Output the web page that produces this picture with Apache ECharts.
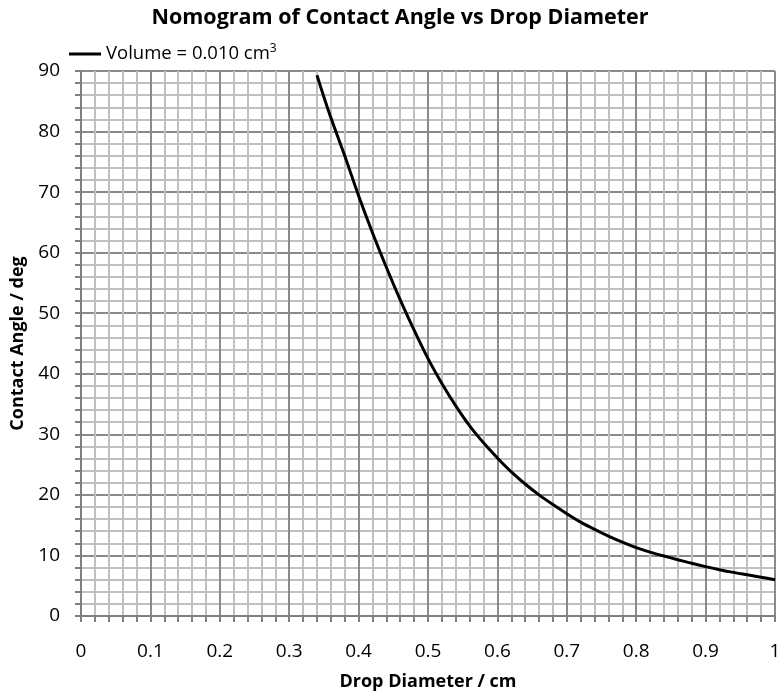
<!DOCTYPE html>
<html>
<head>
<meta charset="utf-8">
<script src="https://cdn.jsdelivr.net/npm/echarts@6/dist/echarts.min.js"></script>
<style>
  html, body { margin: 0; padding: 0; background: #fff; }
  #chart { width: 784px; height: 693px; }
</style>
</head>
<body>
<div id="chart"></div>
<script>
// drop diameter (cm) and contact angle (deg)
var diameters = [0.34, 0.35, 0.36, 0.38, 0.40, 0.42, 0.44, 0.46, 0.48, 0.50,
                 0.52, 0.54, 0.56, 0.58, 0.60, 0.62, 0.64, 0.66, 0.68, 0.70,
                 0.72, 0.74, 0.76, 0.78, 0.80, 0.82, 0.84, 0.86, 0.88, 0.90,
                 0.92, 0.94, 0.96, 0.98, 1.00];
var angles = [89.3, 85.7, 82.3, 76.0, 69.4, 63.3, 57.6, 52.2, 47.2, 42.5,
              38.4, 34.7, 31.4, 28.6, 26.1, 23.8, 21.8, 20.0, 18.4, 16.9,
              15.5, 14.3, 13.2, 12.2, 11.3, 10.55, 9.9, 9.3, 8.7, 8.15,
              7.65, 7.2, 6.8, 6.4, 6.0];
var seriesName = 'Volume = 0.010 cm3';

var points = [];
for (var i = 0; i < diameters.length; i++) {
    points.push([diameters[i], angles[i]]);
}

var font = '"Open Sans", "Liberation Sans", sans-serif';

var axisCommon = {
    axisLine: { lineStyle: { color: '#808080', width: 2 } },
    axisTick: { show: true, inside: false, length: 6, lineStyle: { color: '#808080', width: 2 } },
    minorTick: { show: true, splitNumber: 5, length: 6, lineStyle: { color: '#808080', width: 2 } },
    splitLine: { show: true, lineStyle: { color: '#8a8a8a', width: 2 } },
    minorSplitLine: { show: true, lineStyle: { color: '#c0c0c0', width: 2 } },
    axisLabel: { color: '#000', fontSize: 19, fontFamily: font },
    nameTextStyle: { color: '#000', fontSize: 18, fontWeight: 'bold', fontFamily: font }
};

var option = {
    animation: false,
    backgroundColor: '#fff',
    title: {
        text: 'Nomogram of Contact Angle vs Drop Diameter',
        left: 395,
        textAlign: 'center',
        top: 2,
        textStyle: { color: '#000', fontSize: 21.5, fontWeight: 'bold', fontFamily: font }
    },
    legend: {
        left: 64,
        top: 38,
        icon: 'rect',
        itemWidth: 32,
        itemHeight: 3,
        itemGap: 4,
        data: [seriesName],
        formatter: function () { return 'Volume = 0.010 cm{sup|3}'; },
        textStyle: {
            color: '#000', fontSize: 18.5, fontFamily: font,
            rich: { sup: { fontSize: 12, verticalAlign: 'top', padding: [0, 0, 10, 0], fontFamily: font } }
        }
    },
    grid: { left: 81, right: 9, top: 71, bottom: 77, containLabel: false, outerBoundsMode: 'none' },
    xAxis: Object.assign({}, axisCommon, {
        type: 'value',
        min: 0,
        max: 1,
        interval: 0.1,
        name: 'Drop Diameter / cm',
        nameLocation: 'middle',
        nameGap: 57,
        axisLabel: Object.assign({}, axisCommon.axisLabel, { margin: 26 })
    }),
    yAxis: Object.assign({}, axisCommon, {
        type: 'value',
        min: 0,
        max: 90,
        interval: 10,
        name: 'Contact Angle / deg',
        nameLocation: 'middle',
        nameGap: 49,
        axisLabel: Object.assign({}, axisCommon.axisLabel, { margin: 21 })
    }),
    series: [
        {
            name: seriesName,
            type: 'line',
            data: points,
            smooth: 0.3,
            showSymbol: false,
            symbol: 'none',
            lineStyle: { color: '#000', width: 3 },
            itemStyle: { color: '#000' },
            z: 5
        }
    ]
};

var chart = echarts.init(document.getElementById('chart'));
chart.setOption(option);
</script>
</body>
</html>
